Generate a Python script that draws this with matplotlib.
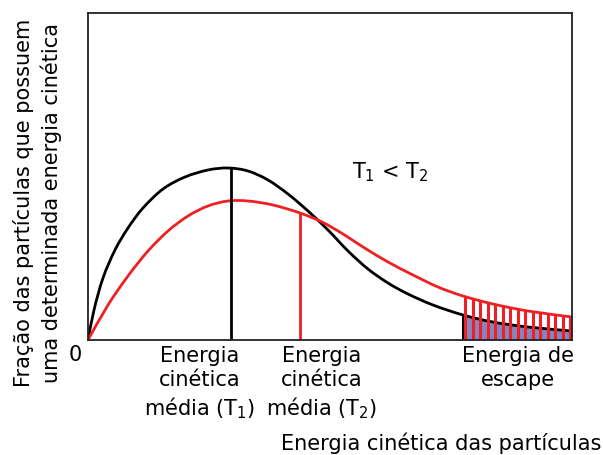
import matplotlib
matplotlib.use('Agg')
import matplotlib.pyplot as plt
from matplotlib.path import Path
from matplotlib.patches import PathPatch
import numpy as np

plt.rcParams['font.family'] = 'DejaVu Sans'
plt.rcParams['mathtext.default'] = 'regular'

# energy (x) and fraction (y), arbitrary units
x_t1 = [0, 6, 15, 27, 40, 55, 75, 97, 120, 140, 160, 180, 200, 220, 240, 260,
        280, 300, 320, 345, 375, 405, 440, 484]
y_t1 = [0, 30, 62, 90, 112, 132, 151, 163, 170, 172, 169, 160, 146, 129, 110, 89,
        71, 57, 46, 35, 25, 18, 13, 9]

x_t2 = [0, 20, 40, 60, 80, 100, 120, 140, 160, 185, 212, 234, 255, 275, 300, 325,
        350, 375, 405, 440, 484]
y_t2 = [0, 35, 64, 89, 109, 124, 134, 139, 139, 135, 127, 118, 106, 93, 78, 65,
        53, 44, 36, 29, 23]

mean_t1 = 143
mean_t2 = 212
escape = 375
hatch_x = np.linspace(377, 482, 15)

labels = ['Energia\ncinética\nmédia (T$_1$)', 'Energia\ncinética\nmédia (T$_2$)',
          'Energia de\nescape']
label_x = [112, 234, 430]

RED = '#ee2024'


def smooth_path(xs, ys):
    # Catmull-Rom through the read points, drawn as cubic Bezier segments
    p = np.column_stack([xs, ys]).astype(float)
    verts = [p[0]]
    codes = [Path.MOVETO]
    for i in range(len(p) - 1):
        p0 = p[i - 1] if i > 0 else p[i]
        p3 = p[i + 2] if i + 2 < len(p) else p[i + 1]
        c1 = p[i] + (p[i + 1] - p0) / 6
        c2 = p[i + 1] - (p3 - p[i]) / 6
        verts += [c1, c2, p[i + 1]]
        codes += [Path.CURVE4] * 3
    return Path(verts, codes)


fig = plt.figure(figsize=(6.03, 4.55), dpi=100)
ax = fig.add_axes([88/603, 1-340/455, 484/603, 327/455])
ax.set_xlim(0, 484)
ax.set_ylim(0, 327)
ax.set_xticks([])
ax.set_yticks([])
for s in ax.spines.values():
    s.set_linewidth(1.3)
    s.set_color('#222222')

# escape region: blue fill under T1, red bars under T2
xe = np.array([escape] + [x for x in x_t1 if x > escape])
ye = np.interp(xe, x_t1, y_t1)
ax.fill_between(xe, 0, ye, color='#8585c2', lw=0)
ax.vlines(escape, 0, np.interp(escape, x_t1, y_t1), color='black', lw=2.2)
ax.vlines(hatch_x, 0, np.interp(hatch_x, x_t2, y_t2), color=RED, lw=2.2)

ax.add_patch(PathPatch(smooth_path(x_t1, y_t1), fc='none', ec='black', lw=2,
                       capstyle='round'))
ax.add_patch(PathPatch(smooth_path(x_t2, y_t2), fc='none', ec=RED, lw=2,
                       capstyle='round'))

ax.vlines(mean_t1, 0, np.interp(mean_t1, x_t1, y_t1), color='black', lw=2)
ax.vlines(mean_t2, 0, np.interp(mean_t2, x_t2, y_t2), color=RED, lw=2)

ax.text(302, 168, 'T$_1$ < T$_2$', fontsize=15, ha='center', va='center')

for lx, lab in zip(label_x, labels):
    ax.text(lx, -6, lab, fontsize=15, ha='center', va='top',
            linespacing=1.25, clip_on=False)
ax.text(-13, -5, '0', fontsize=15, ha='center', va='top', clip_on=False)

fig.text(0.997, 1-443/455, 'Energia cinética das partículas', fontsize=15,
         ha='right', va='center')
fig.text(37.5/603, 1-203/455, 'Fração das partículas que possuem\numa determinada energia cinética',
         fontsize=15, rotation=90, ha='center', va='center', multialignment='center',
         linespacing=1.35)

fig.savefig('out.png', dpi=100)
